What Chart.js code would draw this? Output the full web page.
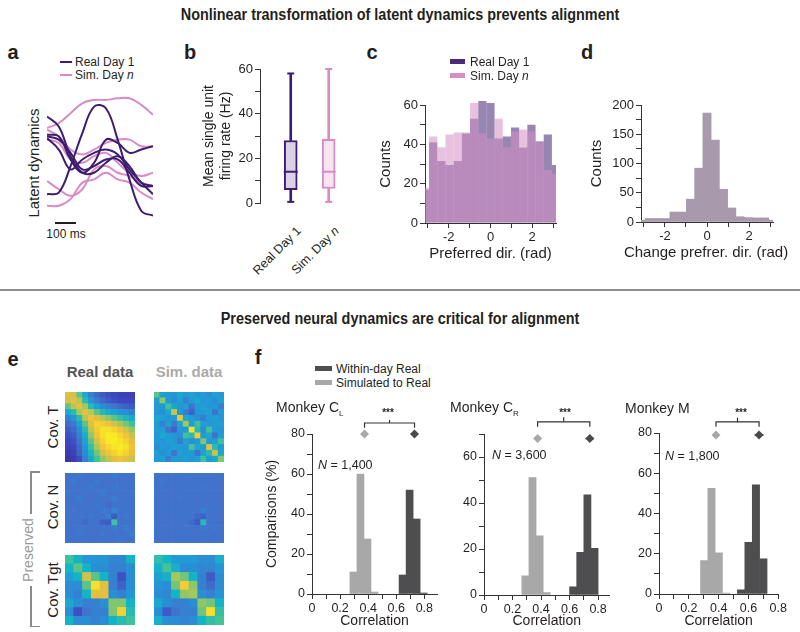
<!DOCTYPE html>
<html>
<head>
<meta charset="utf-8">
<script src="https://cdn.jsdelivr.net/npm/chart.js@4.4.1/dist/chart.umd.min.js"></script>
<style>
    body { margin: 0; background: #fff; }
    #page { position: relative; width: 800px; height: 632px; overflow: hidden; font-family: "Liberation Sans", Arial, Helvetica, sans-serif; color: #231f20; }
    canvas { position: absolute; }
    .t { position: absolute; white-space: nowrap; line-height: 1; }
    .ln { position: absolute; }
</style>
</head>
<body>
<div id="page"></div>
<script>
// ---------- data ----------
// a: latent dynamics (arbitrary units)
const aTime = [0, 1, 2, 3, 4, 5, 6, 7, 8, 9];
const aReal = [
    [7.5, 8, 16, 26, 34, 33.5, 24, 12, 2.5, 1],
    [31, 28, 19, 14, 14, 17, 19, 16, 11, 10],
    [25.5, 25, 18, 14, 17, 24, 23, 20, 21, 22],
    [25, 24, 20, 15, 16, 18, 18, 14, 10, 10],
    [24.5, 21, 15, 18, 20, 21, 19.5, 15, 11, 7.5]
];
const aSim = [
    [27.5, 29, 32, 35, 36, 36, 36.5, 36.5, 34.5, 31.5],
    [27, 25, 21, 19.5, 21, 23, 24, 24, 22, 22],
    [24, 23, 18, 17, 19, 20, 17, 14, 13, 14],
    [11.5, 9, 7, 9, 15, 16, 14, 13, 11, 10],
    [4, 4, 6, 11, 12, 14, 12, 11, 8, 6]
];

// b: firing rate box plots
const boxCats = ['Real Day 1', 'Sim. Day n'];
const boxX = [0, 1];
const boxMin = [0.5, 0.5];
const boxQ1 = [6, 6.5];
const boxMedian = [14, 14];
const boxQ3 = [28, 28.5];
const boxMax = [58, 60];

// c: preferred direction histograms
const dirBins = [-3.1416, -2.7489, -2.3562, -1.9635, -1.5708, -1.1781, -0.7854, -0.3927, 0,
    0.3927, 0.7854, 1.1781, 1.5708, 1.9635, 2.3562, 2.7489, 3.1416];
const dirReal = [17, 41, 31.5, 29.5, 31.5, 45.5, 53, 62, 61, 43, 44, 48.6, 38.4, 50, 41.5, 45, 29.5];
const dirSim = [18, 44, 38.5, 45, 46, 46, 61, 45.5, 43, 53, 38.5, 46.5, 47.6, 46.5, 41, 27, 25];
const dirTicks = [-3, -2, -1, 0, 1, 2, 3];
const dirLabels = [-2, 0, 2];

// d: change of preferred direction
const changeCounts = [3, 6, 6, 6, 17, 17, 39, 92, 186, 140, 56, 24, 9, 7.5, 7, 7, 3];
const countTicksC = [0, 10, 20, 30, 40, 50, 60];
const countLabelsC = [0, 20, 40, 60];
const countTicksD = [0, 25, 50, 75, 100, 125, 150, 175, 200];
const countLabelsD = [0, 50, 100, 150, 200];

// e: covariance matrices (normalised 0..1)
const covTReal = [
    [.85, .82, .65, .45, .30, .22, .18, .15, .12, .10, .10, .10],
    [.82, .86, .78, .55, .38, .28, .22, .18, .15, .12, .12, .12],
    [.65, .78, .85, .75, .55, .42, .35, .30, .25, .22, .20, .18],
    [.45, .55, .75, .85, .78, .65, .55, .48, .42, .38, .35, .30],
    [.30, .38, .55, .78, .88, .85, .78, .72, .65, .58, .52, .45],
    [.22, .28, .42, .65, .85, .92, .90, .88, .82, .75, .68, .60],
    [.18, .22, .35, .55, .78, .90, .95, .95, .92, .88, .82, .72],
    [.15, .18, .30, .48, .72, .88, .95, .98, .97, .93, .88, .80],
    [.12, .15, .25, .42, .65, .82, .92, .97, .98, .96, .92, .85],
    [.10, .12, .22, .38, .58, .75, .88, .93, .96, .97, .95, .88],
    [.08, .10, .20, .35, .52, .68, .82, .88, .92, .95, .92, .85],
    [.05, .08, .15, .30, .45, .60, .72, .80, .85, .88, .85, .80]
];
const covTSim = [
    [.65, .42, .40, .38, .45, .40, .42, .38, .40, .35, .42, .40],
    [.42, .72, .40, .35, .42, .30, .40, .45, .38, .40, .35, .42],
    [.40, .40, .60, .45, .38, .42, .25, .40, .42, .38, .40, .30],
    [.38, .35, .45, .80, .40, .28, .20, .38, .40, .42, .25, .40],
    [.45, .42, .38, .40, .88, .45, .40, .35, .28, .40, .42, .38],
    [.40, .30, .42, .28, .45, .75, .40, .60, .42, .38, .40, .42],
    [.42, .40, .25, .20, .40, .40, .95, .55, .35, .62, .40, .38],
    [.38, .45, .40, .38, .35, .60, .55, .90, .40, .45, .25, .42],
    [.40, .38, .42, .40, .28, .42, .35, .40, .70, .40, .42, .60],
    [.35, .40, .38, .42, .40, .38, .62, .45, .40, .85, .55, .40],
    [.42, .35, .40, .25, .42, .40, .40, .25, .42, .55, .80, .45],
    [.40, .42, .30, .40, .38, .42, .38, .42, .60, .40, .45, .70]
];
const covNReal = [
    [.25, .25, .27, .25, .25, .25, .25, .25, .28, .25, .25, .25],
    [.25, .28, .25, .25, .25, .27, .25, .25, .25, .25, .25, .25],
    [.25, .25, .25, .25, .28, .25, .25, .25, .27, .25, .25, .25],
    [.27, .25, .25, .25, .25, .25, .28, .25, .25, .25, .25, .26],
    [.25, .25, .28, .25, .25, .25, .25, .25, .30, .25, .25, .25],
    [.25, .25, .25, .25, .25, .27, .25, .22, .25, .25, .25, .25],
    [.25, .26, .25, .25, .25, .25, .28, .25, .32, .25, .25, .25],
    [.25, .25, .25, .25, .27, .25, .25, .30, .18, .25, .27, .25],
    [.25, .25, .25, .22, .25, .25, .20, .18, .60, .25, .25, .25],
    [.25, .25, .25, .25, .25, .25, .25, .25, .28, .25, .30, .25],
    [.25, .25, .27, .25, .25, .25, .26, .25, .25, .25, .25, .28],
    [.25, .25, .25, .25, .25, .25, .25, .25, .25, .27, .25, .25]
];
const covNSim = [
    [.25, .25, .25, .25, .25, .25, .25, .25, .25, .25, .25, .25],
    [.25, .26, .25, .25, .25, .25, .25, .25, .25, .25, .25, .25],
    [.25, .25, .25, .25, .25, .25, .25, .25, .26, .25, .25, .25],
    [.25, .25, .25, .25, .25, .25, .25, .25, .25, .25, .25, .25],
    [.25, .25, .25, .25, .26, .25, .25, .25, .25, .25, .25, .25],
    [.25, .25, .25, .25, .25, .25, .25, .25, .25, .25, .25, .25],
    [.25, .25, .25, .25, .25, .25, .25, .25, .30, .25, .25, .25],
    [.25, .25, .25, .25, .25, .25, .25, .22, .20, .25, .25, .25],
    [.25, .25, .25, .25, .25, .25, .22, .18, .55, .25, .25, .25],
    [.25, .25, .25, .25, .25, .25, .25, .25, .28, .25, .27, .25],
    [.25, .25, .25, .25, .25, .25, .25, .25, .25, .25, .25, .25],
    [.25, .25, .25, .25, .25, .25, .25, .25, .25, .25, .25, .25]
];
const covTgtReal = [
    [.60, .50, .38, .38, .38, .32, .32, .50],
    [.50, .65, .50, .35, .35, .30, .30, .35],
    [.42, .50, .82, .65, .50, .30, .15, .35],
    [.35, .35, .65, .95, .85, .30, .20, .35],
    [.35, .30, .50, .85, .85, .35, .30, .38],
    [.45, .35, .30, .30, .35, .70, .70, .50],
    [.35, .15, .25, .30, .30, .70, .92, .55],
    [.50, .35, .35, .30, .35, .50, .55, .60]
];
const covTgtSim = [
    [.58, .50, .40, .40, .40, .35, .35, .48],
    [.50, .62, .48, .35, .35, .32, .32, .38],
    [.42, .48, .75, .68, .50, .30, .18, .35],
    [.38, .35, .68, .90, .72, .30, .22, .35],
    [.35, .32, .50, .72, .75, .35, .30, .38],
    [.45, .35, .30, .30, .35, .72, .68, .50],
    [.35, .18, .25, .30, .30, .68, .95, .58],
    [.48, .35, .35, .32, .35, .50, .58, .62]
];

// f: correlation histograms (% of comparisons)
const corrTicks = [0, 0.1, 0.2, 0.3, 0.4, 0.5, 0.6, 0.7, 0.8];
const corrLabels = [0, 0.2, 0.4, 0.6, 0.8];
const pctTicks80 = [0, 10, 20, 30, 40, 50, 60, 70, 80];
const pctTicks70 = [0, 10, 20, 30, 40, 50, 60, 70];
const pctLabels = [0, 20, 40, 60, 80];

const clSimBins = [0.295, 0.345, 0.395, 0.445];
const clSimPct = [11, 60, 27.5, 1];
const clRealBins = [0.645, 0.695, 0.745, 0.795];
const clRealPct = [9.5, 52, 37.5, 0.5];
const clMeans = [0.374, 0.73];
const clErr = [0.015, 0.02];

const crSimBins = [0.29, 0.34, 0.39, 0.44];
const crSimPct = [8.3, 51, 25.7, 1.1];
const crRealBins = [0.625, 0.675, 0.725, 0.775];
const crRealPct = [3.6, 18.6, 43.6, 20.3];
const crMeans = [0.376, 0.742];
const crErr = [0.015, 0.03];

const mSimBins = [0.303, 0.352, 0.401, 0.45];
const mSimPct = [16.6, 52.5, 20.4, 0.5];
const mRealBins = [0.55, 0.6, 0.65, 0.7];
const mRealPct = [2.1, 25.7, 54.3, 17.5];
const mMeans = [0.382, 0.671];
const mErr = [0.015, 0.03];

// ---------- colours ----------
const realPurple = '#3e1c6f';
const simPink = '#d98bc5';
const lightGray = '#a8a8a8';
const darkGray = '#4e4e50';
const parulaStops = [
    [0.0, [58, 42, 140]], [0.12, [60, 70, 190]], [0.25, [65, 115, 205]], [0.38, [35, 150, 215]],
    [0.5, [20, 180, 200]], [0.62, [70, 195, 150]], [0.75, [165, 200, 90]], [0.87, [240, 190, 60]],
    [1.0, [250, 245, 30]]
];

function parula(v) {
    for (let i = 1; i < parulaStops.length; i++) {
        if (v <= parulaStops[i][0]) {
            const a = parulaStops[i - 1], b = parulaStops[i];
            const f = (v - a[0]) / (b[0] - a[0]);
            const c = a[1].map((x, k) => Math.round(x + (b[1][k] - x) * f));
            return 'rgb(' + c.join(',') + ')';
        }
    }
    return 'rgb(250,245,30)';
}

// ---------- helpers ----------
Chart.defaults.font.family = '"Liberation Sans", Arial, Helvetica, sans-serif';
Chart.defaults.color = '#231f20';
Chart.defaults.animation = false;
Chart.defaults.responsive = false;
Chart.defaults.events = [];
Chart.defaults.plugins.legend.display = false;
Chart.defaults.plugins.tooltip.enabled = false;

const page = document.getElementById('page');

function makeCanvas(x, y, w, h) {
    const c = document.createElement('canvas');
    c.width = w;
    c.height = h;
    c.style.left = x + 'px';
    c.style.top = y + 'px';
    c.style.width = w + 'px';
    c.style.height = h + 'px';
    page.appendChild(c);
    return c;
}

function text(html, x, y, css) {
    const d = document.createElement('div');
    d.className = 't';
    d.innerHTML = html;
    d.style.left = x + 'px';
    d.style.top = y + 'px';
    d.style.transform = 'translate(-50%,-50%)';
    Object.assign(d.style, css || {});
    page.appendChild(d);
    return d;
}

function rect(x, y, w, h, color) {
    const d = document.createElement('div');
    d.className = 'ln';
    Object.assign(d.style, {left: x + 'px', top: y + 'px', width: w + 'px', height: h + 'px', background: color});
    page.appendChild(d);
}

function axis(min, max, tickVals, labelVals, fit, horizontal, title, tickSize, titleSize) {
    return {
        type: 'linear', min: min, max: max, offset: false,
        afterBuildTicks: (s) => { s.ticks = tickVals.map((v) => ({value: v})); },
        afterFit: (s) => { if (horizontal) { s.height = fit; } else { s.width = fit; } },
        ticks: {
            autoSkip: false, maxRotation: 0, padding: 2, font: {size: tickSize || 12}, color: '#231f20',
            callback: (v) => labelVals.indexOf(v) >= 0 ? String(v) : ''
        },
        grid: {drawOnChartArea: false, offset: false, tickLength: 5, color: '#333'},
        border: {color: '#333', width: 1},
        title: {display: !!title, text: title || '', font: {size: titleSize || 14}, color: '#231f20', padding: {top: 2, bottom: 2}}
    };
}

// ---------- titles ----------
const bigTitle = {fontWeight: 'bold', fontSize: '16px', transform: 'translate(-50%,-50%) scaleX(0.9)'};
text('Nonlinear transformation of latent dynamics prevents alignment', 400, 15, bigTitle);
text('Preserved neural dynamics are critical for alignment', 400, 319, bigTitle);
rect(0, 289, 800, 2, '#8f8f8f');

const letter = {fontWeight: 'bold', fontSize: '20px'};
text('a', 13, 52, letter);
text('b', 190, 52, letter);
text('c', 372, 52, letter);
text('d', 587, 52, letter);
text('e', 13, 359, letter);
text('f', 258, 357, letter);

// ---------- a ----------
const cvA = makeCanvas(45, 93, 110, 128);
new Chart(cvA, {
    type: 'line',
    data: {
        labels: aTime,
        datasets: aReal.map((s) => ({data: s, borderColor: realPurple, borderWidth: 2, pointRadius: 0, tension: 0.4}))
            .concat(aSim.map((s) => ({data: s, borderColor: simPink, borderWidth: 2, pointRadius: 0, tension: 0.4})))
    },
    options: {
        layout: {padding: 2},
        scales: {
            x: {type: 'linear', display: false, min: 0, max: 9},
            y: {display: false, min: 0, max: 37.5}
        }
    }
});
rect(60, 61, 12, 2, realPurple);
text('Real Day 1', 75, 62, {fontSize: '12px', transform: 'translate(0,-50%)'});
rect(60, 73.5, 12, 2, simPink);
text('Sim. Day <i>n</i>', 75, 75, {fontSize: '12px', transform: 'translate(0,-50%)'});
text('Latent dynamics', 33, 163, {fontSize: '15px', transform: 'translate(-50%,-50%) rotate(-90deg)'});
rect(55, 222, 21, 2, '#231f20');
text('100 ms', 66, 234, {fontSize: '12px'});

// ---------- b ----------
const cvB = makeCanvas(199, 55, 177, 160);
new Chart(cvB, {
    type: 'bar',
    data: {
        datasets: [
            {type: 'scatter', data: boxX.map((x, i) => ({x: x, y: boxMedian[i]})), pointStyle: 'line',
                pointRadius: 7, pointBorderWidth: 2, pointBorderColor: [realPurple, simPink]},
            {type: 'scatter', data: boxX.map((x, i) => ({x: x, y: boxMin[i]})), pointStyle: 'line',
                pointRadius: 3.5, pointBorderWidth: 2, pointBorderColor: [realPurple, simPink], clip: false},
            {type: 'scatter', data: boxX.map((x, i) => ({x: x, y: boxMax[i]})), pointStyle: 'line',
                pointRadius: 3.5, pointBorderWidth: 2, pointBorderColor: [realPurple, simPink], clip: false},
            {data: boxX.map((x, i) => ({x: x, y: [boxQ1[i], boxQ3[i]]})), backgroundColor: ['#dad2e4', '#f7e6f2'],
                borderColor: [realPurple, simPink], borderWidth: 2, borderSkipped: false, barThickness: 13, grouped: false},
            {data: boxX.map((x, i) => ({x: x, y: [boxMin[i], boxQ1[i]]})), backgroundColor: [realPurple, simPink],
                barThickness: 2, grouped: false, clip: false},
            {data: boxX.map((x, i) => ({x: x, y: [boxQ3[i], boxMax[i]]})), backgroundColor: [realPurple, simPink],
                barThickness: 2, grouped: false, clip: false}
        ]
    },
    options: {
        layout: {padding: {top: 14, bottom: 12, right: 6, left: 0}},
        scales: {
            x: {type: 'linear', display: false, min: -0.81, max: 2.01, offset: false},
            y: axis(0, 60, [0, 10, 20, 30, 40, 50, 60], [0, 20, 40, 60], 61, false, ['Mean single unit', 'firing rate (Hz)'], 13, 14)
        }
    }
});
const rotLab = {fontSize: '12.5px', transform: 'translate(-100%,-50%) rotate(-45deg)', transformOrigin: '100% 50%'};
text('Real Day 1', 299, 229, rotLab);
text('Sim. Day <i>n</i>', 337, 229, rotLab);

// ---------- c ----------
const cvC = makeCanvas(375, 90, 187, 175);
new Chart(cvC, {
    type: 'bar',
    data: {
        datasets: [
            {label: 'Sim. Day n', data: dirBins.map((b, i) => ({x: b, y: dirSim[i]})), backgroundColor: 'rgba(212,143,196,0.55)',
                grouped: false, barPercentage: 1, categoryPercentage: 1, inflateAmount: 0, clip: {left: 0, right: 0, top: false, bottom: 0}},
            {label: 'Real Day 1', data: dirBins.map((b, i) => ({x: b, y: dirReal[i]})), backgroundColor: 'rgba(74,43,120,0.57)',
                grouped: false, barPercentage: 1, categoryPercentage: 1, inflateAmount: 0, clip: {left: 0, right: 0, top: false, bottom: 0}}
        ]
    },
    options: {
        layout: {padding: {top: 15, right: 6, left: 0, bottom: 0}},
        scales: {
            x: axis(-3.1416, 3.1416, dirTicks, dirLabels, 42, true, 'Preferred dir. (rad)', 13, 15),
            y: axis(0, 60, countTicksC, countLabelsC, 50, false, 'Counts', 13, 15)
        }
    }
});
rect(450, 59, 15, 5, '#4a2b78');
text('Real Day 1', 470, 61.5, {fontSize: '12px', transform: 'translate(0,-50%)'});
rect(450, 73, 15, 5, '#d48fc4');
text('Sim. Day <i>n</i>', 470, 75.5, {fontSize: '12px', transform: 'translate(0,-50%)'});

// ---------- d ----------
const cvD = makeCanvas(586, 90, 192, 175);
new Chart(cvD, {
    type: 'bar',
    data: {
        datasets: [
            {data: dirBins.map((b, i) => ({x: b, y: changeCounts[i]})), backgroundColor: '#a999ad',
                grouped: false, barPercentage: 1, categoryPercentage: 1, clip: {left: 0, right: 0, top: false, bottom: 0}}
        ]
    },
    options: {
        layout: {padding: {top: 15, right: 5, left: 0, bottom: 0}},
        scales: {
            x: axis(-3.1416, 3.1416, dirTicks, dirLabels, 43, true, '', 13, 15),
            y: axis(0, 200, countTicksD, countLabelsD, 55, false, 'Counts', 13, 15)
        }
    }
});
// title wider than the plot, so it is placed as page text
text('Change prefrer. dir. (rad)', 706, 251, {fontSize: '15px'});

// ---------- e ----------
function heatmap(x, y, matrix) {
    const cv = makeCanvas(x, y, 70, 70);
    const cols = matrix[0].map((v, i) => i);
    const datasets = matrix.slice().reverse().map((row) => ({
        data: row.map(() => 1),
        backgroundColor: row.map(parula),
        borderWidth: 0, barPercentage: 1, categoryPercentage: 1
    }));
    new Chart(cv, {
        type: 'bar',
        data: {labels: cols, datasets: datasets},
        options: {
            layout: {padding: 0},
            scales: {
                x: {display: false, stacked: true},
                y: {display: false, stacked: true, min: 0, max: matrix.length}
            }
        }
    });
}
heatmap(65, 392, covTReal);
heatmap(154, 392, covTSim);
heatmap(65, 473, covNReal);
heatmap(154, 473, covNSim);
heatmap(65, 555, covTgtReal);
heatmap(154, 555, covTgtSim);

text('Real data', 100, 371, {fontWeight: 'bold', fontSize: '15px', color: '#555'});
text('Sim. data', 189, 371, {fontWeight: 'bold', fontSize: '15px', color: '#aaa'});
const rowLab = {fontSize: '15px', transform: 'translate(-50%,-50%) rotate(-90deg)'};
text('Cov. T', 52, 427, rowLab);
text('Cov. N', 52, 507, rowLab);
text('Cov. Tgt', 52, 590, rowLab);
text('Preserved', 28, 550, {fontSize: '14px', color: '#999', transform: 'translate(-50%,-50%) rotate(-90deg)'});
rect(30, 471, 10, 1.5, '#8a8a8a');
rect(30, 471, 1.5, 43, '#8a8a8a');
rect(30, 586, 1.5, 41, '#8a8a8a');
rect(30, 625.5, 10, 1.5, '#8a8a8a');

// ---------- f ----------
function monkey(box, pad, xMax, xFit, yMax, yTicks, yTitle, simBins, simPct, realBins, realPct, means, err, meanY, bracket) {
    const cv = makeCanvas(box[0], box[1], box[2], box[3]);
    const mid = (means[0] + means[1]) / 2;
    const lineDs = (pts, color, w) => ({type: 'line', data: pts, borderColor: color, borderWidth: w, pointRadius: 0, clip: false});
    new Chart(cv, {
        type: 'bar',
        data: {
            datasets: [
                {type: 'scatter', data: means.map((m) => ({x: m, y: meanY})), pointStyle: 'rectRot', pointRadius: 4.5,
                    pointBackgroundColor: [lightGray, '#4a4a4a'], pointBorderWidth: 0, clip: false},
                lineDs([{x: means[0] - err[0], y: meanY}, {x: means[0] + err[0], y: meanY}], lightGray, 1.5),
                lineDs([{x: means[1] - err[1], y: meanY}, {x: means[1] + err[1], y: meanY}], '#4a4a4a', 1.5),
                lineDs([{x: means[0], y: bracket[0]}, {x: means[0], y: bracket[1]}, {x: means[1], y: bracket[1]}, {x: means[1], y: bracket[0]}], '#333', 1.2),
                lineDs([{x: mid, y: bracket[1]}, {x: mid, y: bracket[2]}], '#333', 1.2),
                {data: realBins.map((b, i) => ({x: b, y: realPct[i]})), backgroundColor: darkGray,
                    grouped: false, barPercentage: 1, categoryPercentage: 1},
                {data: simBins.map((b, i) => ({x: b, y: simPct[i]})), backgroundColor: lightGray,
                    grouped: false, barPercentage: 1, categoryPercentage: 1}
            ]
        },
        options: {
            layout: {padding: pad},
            scales: {
                x: axis(0, xMax, corrTicks, corrLabels, xFit, true, 'Correlation', 12.5, 14),
                y: axis(0, yMax, yTicks, pctLabels, 50, false, yTitle, 12.5, 14)
            }
        }
    });
}
monkey([262, 400, 180, 232], {top: 34, right: 5, left: 0, bottom: 0}, 0.89, 38, 80, pctTicks80, 'Comparisons (%)',
    clSimBins, clSimPct, clRealBins, clRealPct, clMeans, clErr, 80, [83.1, 85.5, 87]);
monkey([434, 400, 180, 232], {top: 34, right: 3, left: 0, bottom: 0}, 0.88, 37, 70, pctTicks70, '',
    crSimBins, crSimPct, crRealBins, crRealPct, crMeans, crErr, 68, [73.2, 75.3, 77.3]);
monkey([609, 400, 180, 232], {top: 33, right: 6, left: 0, bottom: 0}, 0.8, 38, 80, pctTicks80, '',
    mSimBins, mSimPct, mRealBins, mRealPct, mMeans, mErr, 79, [83.1, 85.5, 87.6]);

rect(315, 366, 17, 5, darkGray);
text('Within-day Real', 336, 368.5, {fontSize: '12px', transform: 'translate(0,-50%)'});
rect(315, 380, 17, 5, lightGray);
text('Simulated to Real', 336, 382.5, {fontSize: '12px', transform: 'translate(0,-50%)'});

const monkeyTitle = {fontSize: '14px', transform: 'translate(0,-50%)'};
const subStyle = '<sub style="font-size:8px">';
text('Monkey C' + subStyle + 'L</sub>', 276, 409, monkeyTitle);
text('Monkey C' + subStyle + 'R</sub>', 450, 409, monkeyTitle);
text('Monkey M', 625, 408, monkeyTitle);
const stars = {fontSize: '10px', fontWeight: 'bold'};
text('***', 388, 413, stars);
text('***', 565, 413, stars);
text('***', 741, 413, stars);
const nLab = {fontSize: '12.5px', transform: 'translate(0,-50%)'};
text('<i>N</i> = 1,400', 318, 465, nLab);
text('<i>N</i> = 3,600', 492, 455, nLab);
text('<i>N</i> = 1,800', 665, 456, nLab);
</script>
</body>
</html>
